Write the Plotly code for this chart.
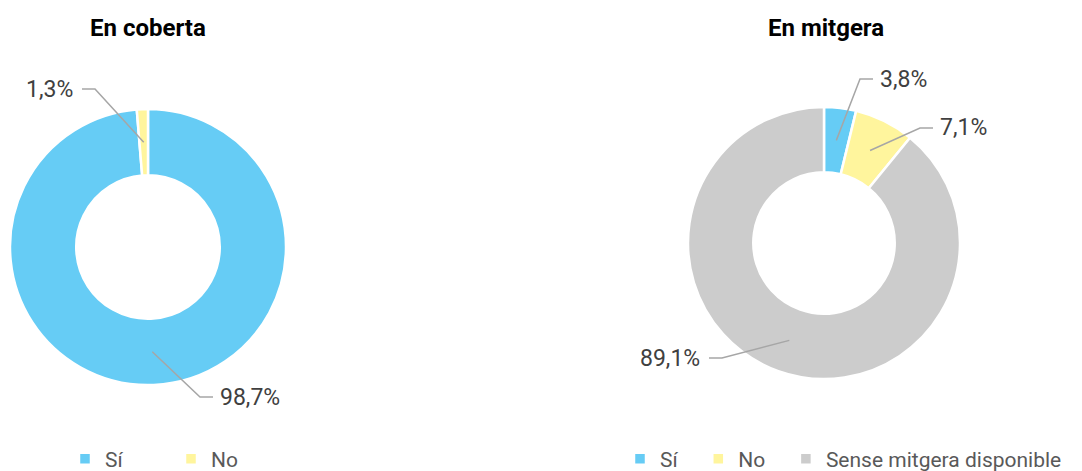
import math
import plotly.graph_objects as go

# the page body keeps an 8px margin, so the figure is drawn 8px in from the window edge
OFF = 8
W, H = 1082 - OFF, 471 - OFF

# data
cob_labels = ['Sí', 'No']
cob_values = [98.7, 1.3]
# padded with no-break spaces: keeps the second legend separate and spaces its items
NB = '\u00a0' * 3
mit_labels = ['Sí' + NB, 'No' + NB, 'Sense mitgera disponible']
mit_values = [3.8, 7.1, 89.1]
cob_text = ['98,7%', '1,3%']
mit_text = ['3,8%', '7,1%', '89,1%']

cob_colors = ['#66CCF5', '#FFF59D']
mit_colors = ['#66CCF5', '#FFF59D', '#CCCCCC']

# layout: donut boxes in window pixels (left, top, right, bottom)
cob_box = (10, 109, 286, 385)
mit_box = (688, 107, 960, 379)
HOLE = 0.52
# elbow of each leader line (window pixels) and which side the label sits on
cob_elbows = [(200, 397, 'right'), (95, 89, 'left')]
mit_elbows = [(860, 79, 'right'), (920, 128, 'right'), (722, 358, 'left')]

TXT = '#404040'
FONT = 'Roboto, Liberation Sans, sans-serif'


def px(x):
    return (x - OFF) / W


def py(y):
    return 1 - (y - OFF) / H


def leaders(fig, box, values, texts, elbows):
    cx = (box[0] + box[2]) / 2
    cy = (box[1] + box[3]) / 2
    r = (box[2] - box[0]) / 2
    rm = r * (1 + HOLE) / 2
    total = sum(values)
    acc = 0
    for v, t, (ex, ey, side) in zip(values, texts, elbows):
        mid = (acc + v / 2) / total * 2 * math.pi
        acc += v
        sx = cx + rm * math.sin(mid)
        sy = cy - rm * math.cos(mid)
        hx = ex + 13 if side == 'right' else ex - 13
        path = 'M{},{} L{},{} L{},{}'.format(px(sx), py(sy), px(ex), py(ey), px(hx), py(ey))
        fig.add_shape(type='path', path=path, xref='paper', yref='paper',
                      line=dict(color='#A6A6A6', width=1.5))
        tx = hx + 5 if side == 'right' else hx - 7
        fig.add_annotation(x=px(tx), y=py(ey), xref='paper', yref='paper', text=t,
                           showarrow=False, xanchor='left' if side == 'right' else 'right',
                           yanchor='middle', font=dict(size=23, color=TXT, family=FONT))


fig = go.Figure()
fig.add_trace(go.Pie(labels=cob_labels, values=cob_values, hole=HOLE, sort=False,
                     direction='clockwise', rotation=0, textinfo='none',
                     marker=dict(colors=cob_colors, line=dict(color='white', width=2.5)),
                     domain=dict(x=[px(cob_box[0]), px(cob_box[2])], y=[py(cob_box[3]), py(cob_box[1])]),
                     legend='legend'))
fig.add_trace(go.Pie(labels=mit_labels, values=mit_values, hole=HOLE, sort=False,
                     direction='clockwise', rotation=0, textinfo='none',
                     marker=dict(colors=mit_colors, line=dict(color='white', width=2.5)),
                     domain=dict(x=[px(mit_box[0]), px(mit_box[2])], y=[py(mit_box[3]), py(mit_box[1])]),
                     legend='legend2'))

leaders(fig, cob_box, cob_values, cob_text, cob_elbows)
leaders(fig, mit_box, mit_values, mit_text, mit_elbows)

for t, x in [('En coberta', 148), ('En mitgera', 826)]:
    fig.add_annotation(x=px(x), y=py(28), xref='paper', yref='paper', text='<b>%s</b>' % t,
                       showarrow=False, xanchor='center', yanchor='middle',
                       font=dict(size=24, color='#000000', family=FONT))

leg = dict(orientation='h', yanchor='middle', xanchor='left', bgcolor='rgba(0,0,0,0)',
           font=dict(size=21, color='#595959', family=FONT), itemclick=False,
           traceorder='normal')
fig.update_layout(
    width=W, height=H, margin=dict(l=0, r=0, t=0, b=0, autoexpand=False),
    paper_bgcolor='white', plot_bgcolor='white',
    legend=dict(leg, x=px(65), y=py(459), entrywidthmode='pixels', entrywidth=61),
    legend2=dict(leg, x=px(620), y=py(459)),
    showlegend=True,
)

fig.write_html('out.html')
